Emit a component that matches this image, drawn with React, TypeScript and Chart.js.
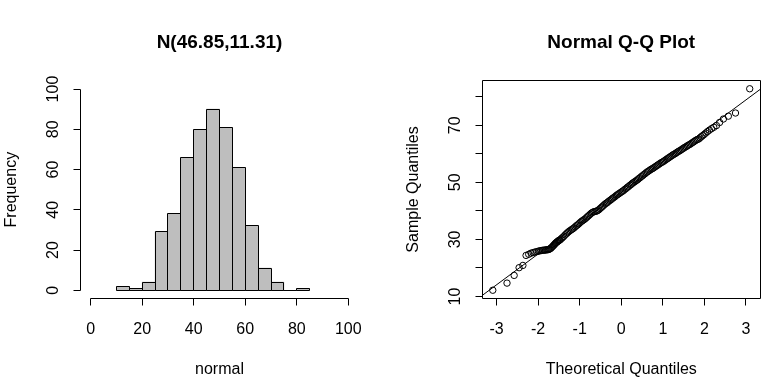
import React, { useEffect, useRef } from "react";
import { Chart, registerables } from "chart.js";

Chart.register(...registerables);

const FONT = '"Liberation Sans", Arial, Helvetica, sans-serif';

// ---------------- Histogram data ----------------
const histTitle = "N(46.85,11.31)";
const histXLabel = "normal";
const histYLabel = "Frequency";
const histBinStarts = [10, 15, 20, 25, 30, 35, 40, 45, 50, 55, 60, 65, 70, 75, 80];
const histBinWidth = 5;
const histCounts = [2, 1, 4, 29, 38, 66, 80, 90, 81, 61, 32, 11, 4, 0, 1];
const histXTicks = [0, 20, 40, 60, 80, 100];
const histYTicks = [0, 20, 40, 60, 80, 100];

// ---------------- Q-Q plot data ----------------
const qqTitle = "Normal Q-Q Plot";
const qqXLabel = "Theoretical Quantiles";
const qqYLabel = "Sample Quantiles";
const qqTheoretical = [
  -3.09, -2.748, -2.576, -2.457, -2.366, -2.29, -2.226, -2.17, -2.12, -2.075, -2.034, -1.995,
  -1.96, -1.927, -1.896, -1.866, -1.838, -1.812, -1.787, -1.762, -1.739, -1.717, -1.695, -1.675,
  -1.655, -1.635, -1.616, -1.598, -1.58, -1.563, -1.546, -1.53, -1.514, -1.498, -1.483, -1.468,
  -1.44, -1.41, -1.38, -1.35, -1.32, -1.29, -1.26, -1.23, -1.2, -1.17, -1.14, -1.11, -1.08, -1.05,
  -1.02, -0.99, -0.96, -0.93, -0.9, -0.87, -0.84, -0.81, -0.78, -0.75, -0.72, -0.69, -0.66, -0.63,
  -0.6, -0.57, -0.54, -0.51, -0.48, -0.45, -0.42, -0.39, -0.36, -0.33, -0.3, -0.27, -0.24, -0.21,
  -0.18, -0.15, -0.12, -0.09, -0.06, -0.03, 0, 0.03, 0.06, 0.09, 0.12, 0.15, 0.18, 0.21, 0.24,
  0.27, 0.3, 0.33, 0.36, 0.39, 0.42, 0.45, 0.48, 0.51, 0.54, 0.57, 0.6, 0.63, 0.66, 0.69, 0.72,
  0.75, 0.78, 0.81, 0.84, 0.87, 0.9, 0.93, 0.96, 0.99, 1.02, 1.05, 1.08, 1.11, 1.14, 1.17, 1.2,
  1.23, 1.26, 1.29, 1.32, 1.35, 1.38, 1.41, 1.44, 1.47, 1.5, 1.53, 1.56, 1.59, 1.62, 1.65, 1.68,
  1.71, 1.74, 1.77, 1.8, 1.83, 1.866, 1.896, 1.927, 1.96, 1.995, 2.034, 2.075, 2.12, 2.17, 2.226,
  2.29, 2.366, 2.457, 2.576, 2.748, 3.09,
];
const qqSample = [
  12.2, 14.7, 17.4, 20.1, 20.9, 24.4, 24.8, 25.2, 25.4, 25.6, 25.7, 25.9,
  26.0, 26.1, 26.2, 26.2, 26.3, 26.3, 26.4, 26.4, 26.5, 26.7, 26.9, 27.2,
  27.5, 27.8, 28.1, 28.4, 28.7, 28.9, 29.1, 29.3, 29.5, 29.6, 29.8, 29.9,
  30.3, 30.7, 31.1, 31.6, 32.0, 32.4, 32.8, 33.1, 33.4, 33.7, 34.0, 34.4, 34.8, 35.1,
  35.5, 35.9, 36.3, 36.6, 36.9, 37.2, 37.6, 38.0, 38.4, 38.8, 39.2, 39.5, 39.7, 39.8,
  39.9, 40.1, 40.4, 40.8, 41.2, 41.6, 42.0, 42.4, 42.7, 43.0, 43.4, 43.7, 44.0, 44.4,
  44.7, 45.0, 45.4, 45.7, 46.0, 46.3, 46.6, 46.9, 47.2, 47.6, 47.9, 48.3, 48.6, 49.0, 49.3,
  49.7, 50.0, 50.3, 50.6, 50.9, 51.3, 51.6, 52.0, 52.3, 52.7, 53.0, 53.4, 53.7, 54.0, 54.3, 54.6,
  54.8, 55.1, 55.4, 55.7, 56.0, 56.3, 56.6, 56.9, 57.1, 57.4, 57.7, 58.0, 58.3, 58.6, 58.9, 59.2,
  59.5, 59.8, 60.0, 60.3, 60.6, 60.9, 61.1, 61.4, 61.7, 62.0, 62.3, 62.5, 62.8, 63.1, 63.3, 63.6,
  63.9, 64.2, 64.5, 64.8, 65.0, 65.2, 65.6, 66.0, 66.4, 66.8, 67.3, 67.8, 68.3, 68.8, 69.3,
  69.9, 71.0, 72.2, 73.2, 74.3, 82.8,
];
const qqLineX = [-3.5, 3.5];
const qqLineY = [8.7, 84.3];
const qqXTicks = [-3, -2, -1, 0, 1, 2, 3];
const qqYTicks = [10, 20, 30, 40, 50, 60, 70, 80];
const qqYTickLabels = ["10", "", "30", "", "50", "", "70", ""];

// ---------------- drawing helpers ----------------
const PANEL_W = 389;
const PANEL_H = 390;
const TITLE_Y = 42.7;
const AXIS_TITLE_Y = 369.5;
const TICK_LEN = 7;
const XLAB_OFF = 31;
const YLAB_OFF = 27;
const YTITLE_OFF = 68.6;

const crisp = (v: number) => Math.floor(v) + 0.5;

function rotatedText(ctx: CanvasRenderingContext2D, text: string, x: number, y: number) {
  ctx.save();
  ctx.translate(x, y);
  ctx.rotate(-Math.PI / 2);
  ctx.fillText(text, 0, 0);
  ctx.restore();
}

type PanelCfg = {
  title: string;
  xLabel: string;
  yLabel: string;
  xTicks: number[];
  yTicks: number[];
  yTickLabels?: string[];
  box: boolean;
  barOutline: boolean;
};

function makeRPlugin(cfg: PanelCfg) {
  return {
    id: "rStyle",
    afterDatasetsDraw(chart: any) {
      if (!cfg.barOutline) return;
      const ctx: CanvasRenderingContext2D = chart.ctx;
      ctx.save();
      ctx.strokeStyle = "#000";
      ctx.lineWidth = 1;
      const meta = chart.getDatasetMeta(0);
      meta.data.forEach((el: any) => {
        const p = el.getProps(["x", "y", "base", "width"], true);
        const l = crisp(p.x - p.width / 2);
        const r = crisp(p.x + p.width / 2);
        const t = crisp(Math.min(p.y, p.base));
        const b = crisp(Math.max(p.y, p.base));
        ctx.beginPath();
        ctx.rect(l, t, r - l, b - t);
        ctx.stroke();
      });
      ctx.restore();
    },
    afterDraw(chart: any) {
      const ctx: CanvasRenderingContext2D = chart.ctx;
      const area = chart.chartArea;
      const xs = chart.scales.x;
      const ys = chart.scales.y;
      ctx.save();
      ctx.strokeStyle = "#000";
      ctx.fillStyle = "#000";
      ctx.lineWidth = 1;

      const ax = crisp(area.left);
      const ay = crisp(area.bottom);

      if (cfg.box) {
        const l = crisp(area.left), r = crisp(area.right), t = crisp(area.top), b = crisp(area.bottom);
        ctx.beginPath();
        ctx.rect(l, t, r - l, b - t);
        ctx.stroke();
      }

      // x axis
      const xp = cfg.xTicks.map((v) => crisp(xs.getPixelForValue(v)));
      ctx.beginPath();
      ctx.moveTo(xp[0], ay);
      ctx.lineTo(xp[xp.length - 1], ay);
      xp.forEach((p) => {
        ctx.moveTo(p, ay);
        ctx.lineTo(p, ay + TICK_LEN);
      });
      ctx.stroke();

      // y axis
      const yp = cfg.yTicks.map((v) => crisp(ys.getPixelForValue(v)));
      ctx.beginPath();
      ctx.moveTo(ax, yp[0]);
      ctx.lineTo(ax, yp[yp.length - 1]);
      yp.forEach((p) => {
        ctx.moveTo(ax, p);
        ctx.lineTo(ax - TICK_LEN, p);
      });
      ctx.stroke();

      // tick labels
      ctx.font = `16px ${FONT}`;
      ctx.textAlign = "center";
      ctx.textBaseline = "middle";
      cfg.xTicks.forEach((v) => {
        ctx.fillText(String(v), xs.getPixelForValue(v), area.bottom + XLAB_OFF);
      });
      cfg.yTicks.forEach((v, i) => {
        const lab = cfg.yTickLabels ? cfg.yTickLabels[i] : String(v);
        if (lab) rotatedText(ctx, lab, area.left - YLAB_OFF, ys.getPixelForValue(v));
      });

      // axis titles
      const cx = (area.left + area.right) / 2;
      const cy = (area.top + area.bottom) / 2;
      ctx.fillText(cfg.xLabel, cx, AXIS_TITLE_Y);
      rotatedText(ctx, cfg.yLabel, area.left - YTITLE_OFF, cy);

      // main title
      ctx.font = `bold 19px ${FONT}`;
      ctx.fillText(cfg.title, cx, TITLE_Y);
      ctx.restore();
    },
  };
}

const baseOptions = {
  responsive: false,
  animation: false as const,
  devicePixelRatio: 1,
  events: [] as any[],
  plugins: {
    legend: { display: false },
    tooltip: { enabled: false },
    title: { display: false },
  },
};

export default function App() {
  const histRef = useRef<HTMLCanvasElement | null>(null);
  const qqRef = useRef<HTMLCanvasElement | null>(null);

  useEffect(() => {
    const charts: Chart[] = [];
    if (histRef.current) {
      charts.push(
        new Chart(histRef.current, {
          type: "bar",
          data: {
            datasets: [
              {
                data: histBinStarts.map((s, i) => ({ x: s + histBinWidth / 2, y: histCounts[i] })),
                backgroundColor: "#bebebe",
                borderWidth: 0,
                barPercentage: 1,
                categoryPercentage: 1,
              } as any,
            ],
          },
          options: {
            ...baseOptions,
            layout: { padding: { left: 80.4, right: PANEL_W - 358.6, top: 81, bottom: PANEL_H - 298.3 } },
            scales: {
              x: { type: "linear", min: -4, max: 104, offset: false, display: false },
              y: { type: "linear", min: -4, max: 104, display: false },
            },
          } as any,
          plugins: [
            makeRPlugin({
              title: histTitle,
              xLabel: histXLabel,
              yLabel: histYLabel,
              xTicks: histXTicks,
              yTicks: histYTicks,
              box: false,
              barOutline: true,
            }) as any,
          ],
        })
      );
    }
    if (qqRef.current) {
      charts.push(
        new Chart(qqRef.current, {
          type: "scatter",
          data: {
            datasets: [
              {
                data: qqLineX.map((x, i) => ({ x, y: qqLineY[i] })),
                showLine: true,
                borderColor: "#000",
                borderWidth: 1,
                pointRadius: 0,
                fill: false,
              } as any,
              {
                data: qqTheoretical.map((x, i) => ({ x, y: qqSample[i] })),
                pointStyle: "circle",
                pointRadius: 3.2,
                pointBorderWidth: 1,
                pointBorderColor: "#000",
                pointBackgroundColor: "rgba(0,0,0,0)",
                borderColor: "#000",
                backgroundColor: "rgba(0,0,0,0)",
                showLine: false,
              } as any,
            ],
          },
          options: {
            ...baseOptions,
            layout: { padding: { left: 482.5 - PANEL_W, right: PANEL_W * 2 - 760, top: 80.7, bottom: PANEL_H - 298.3 } },
            scales: {
              x: { type: "linear", min: -3.3374, max: 3.3374, display: false },
              y: { type: "linear", min: 9.376, max: 85.624, display: false },
            },
          } as any,
          plugins: [
            makeRPlugin({
              title: qqTitle,
              xLabel: qqXLabel,
              yLabel: qqYLabel,
              xTicks: qqXTicks,
              yTicks: qqYTicks,
              yTickLabels: qqYTickLabels,
              box: true,
              barOutline: false,
            }) as any,
          ],
        })
      );
    }
    return () => charts.forEach((c) => c.destroy());
  }, []);

  return (
    <div
      style={{
        position: "absolute",
        left: 0,
        top: 0,
        width: PANEL_W * 2,
        height: PANEL_H,
        display: "flex",
        background: "#fff",
      }}
    >
      <canvas ref={histRef} width={PANEL_W} height={PANEL_H} style={{ display: "block" }} />
      <canvas ref={qqRef} width={PANEL_W} height={PANEL_H} style={{ display: "block" }} />
    </div>
  );
}
